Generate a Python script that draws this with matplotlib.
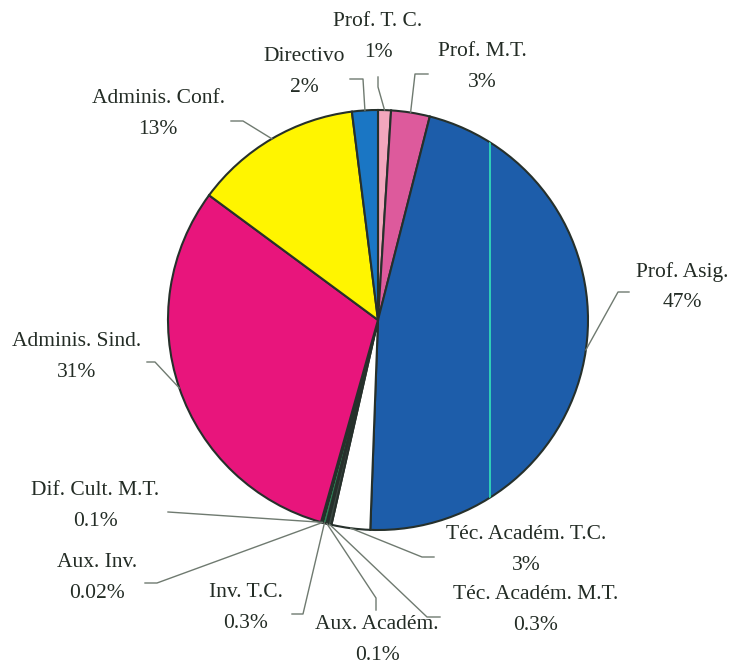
import numpy as np
import matplotlib
matplotlib.use("Agg")
import matplotlib.pyplot as plt

# Staff categories, clockwise from the top
categories = [
    "Prof. T. C.", "Prof. M.T.", "Prof. Asig.", "Téc. Académ. T.C.",
    "Téc. Académ. M.T.", "Aux. Académ.", "Inv. T.C.", "Aux. Inv.",
    "Dif. Cult. M.T.", "Adminis. Sind.", "Adminis. Conf.", "Directivo",
]
shares = [1, 3, 47, 3, 0.3, 0.1, 0.3, 0.02, 0.1, 31, 13, 2]
pct_labels = ["1%", "3%", "47%", "3%", "0.3%", "0.1%", "0.3%", "0.02%",
              "0.1%", "31%", "13%", "2%"]

colors = ["#f2a7bd", "#dd5a9c", "#1d5daa", "#ffffff", "#3b4842", "#5a6a60",
          "#2f7f55", "#4a4f4c", "#42524a", "#e8157c", "#fff500", "#1a76c4"]

# label centre and leader elbow points, in pixels from the top-left corner
label_pos = {
    "Prof. T. C.": (378, 37), "Prof. M.T.": (482, 67), "Prof. Asig.": (682, 287),
    "Téc. Académ. T.C.": (526, 550), "Téc. Académ. M.T.": (536, 610),
    "Aux. Académ.": (377, 640), "Inv. T.C.": (246, 608), "Aux. Inv.": (97, 578),
    "Dif. Cult. M.T.": (95, 506), "Adminis. Sind.": (77, 357),
    "Adminis. Conf.": (158, 114), "Directivo": (304, 72),
}
leader_pts = {
    "Prof. T. C.": [(378, 77), (378, 87)],
    "Prof. M.T.": [(428, 74), (415, 74)],
    "Prof. Asig.": [(629, 292), (618, 292)],
    "Téc. Académ. T.C.": [(434, 557), (422, 557)],
    "Téc. Académ. M.T.": [(440, 617), (427, 617)],
    "Aux. Académ.": [(376, 610), (376, 598)],
    "Inv. T.C.": [(292, 614), (303, 614)],
    "Aux. Inv.": [(145, 583), (157, 583)],
    "Dif. Cult. M.T.": [(168, 512)],
    "Adminis. Sind.": [(147, 362), (155, 362)],
    "Adminis. Conf.": [(231, 121), (243, 121)],
    "Directivo": [(350, 79), (363, 79)],
}

W, H = 734, 667
CX, CY, R = 378, 320, 210

fig = plt.figure(figsize=(W / 100, H / 100), dpi=100)
ax = fig.add_axes([0, 0, 1, 1])

wedges, _ = ax.pie(
    shares, colors=colors, startangle=90, counterclock=False,
    center=(CX, H - CY), radius=R, frame=True,
    wedgeprops=dict(edgecolor="#26302b", linewidth=1.5),
)
ax.set_xlim(0, W)
ax.set_ylim(0, H)
ax.set_aspect("equal")
ax.axis("off")

# thin cyan streak through the big blue wedge
streak, = ax.plot([490, 490], [0, H], color="#2fd0b8", lw=1.4, zorder=3)
streak.set_clip_path(wedges[2])

text_color = "#232c25"
line_color = "#6f7a70"
for w, name, pct in zip(wedges, categories, pct_labels):
    mid = np.deg2rad((w.theta1 + w.theta2) / 2)
    ax_x = CX + R * np.cos(mid)
    ax_y = (H - CY) + R * np.sin(mid)
    pts = [(px, H - py) for px, py in leader_pts[name]] + [(ax_x, ax_y)]
    xs, ys = zip(*pts)
    ax.plot(xs, ys, color=line_color, lw=1.0, zorder=4)
    lx, ly = label_pos[name]
    ax.text(lx, H - ly, f"{name}\n{pct}", ha="center", va="center",
            family="Liberation Serif", fontsize=15.5, color=text_color,
            linespacing=1.8)

fig.savefig("out.png", dpi=100, facecolor="white")
